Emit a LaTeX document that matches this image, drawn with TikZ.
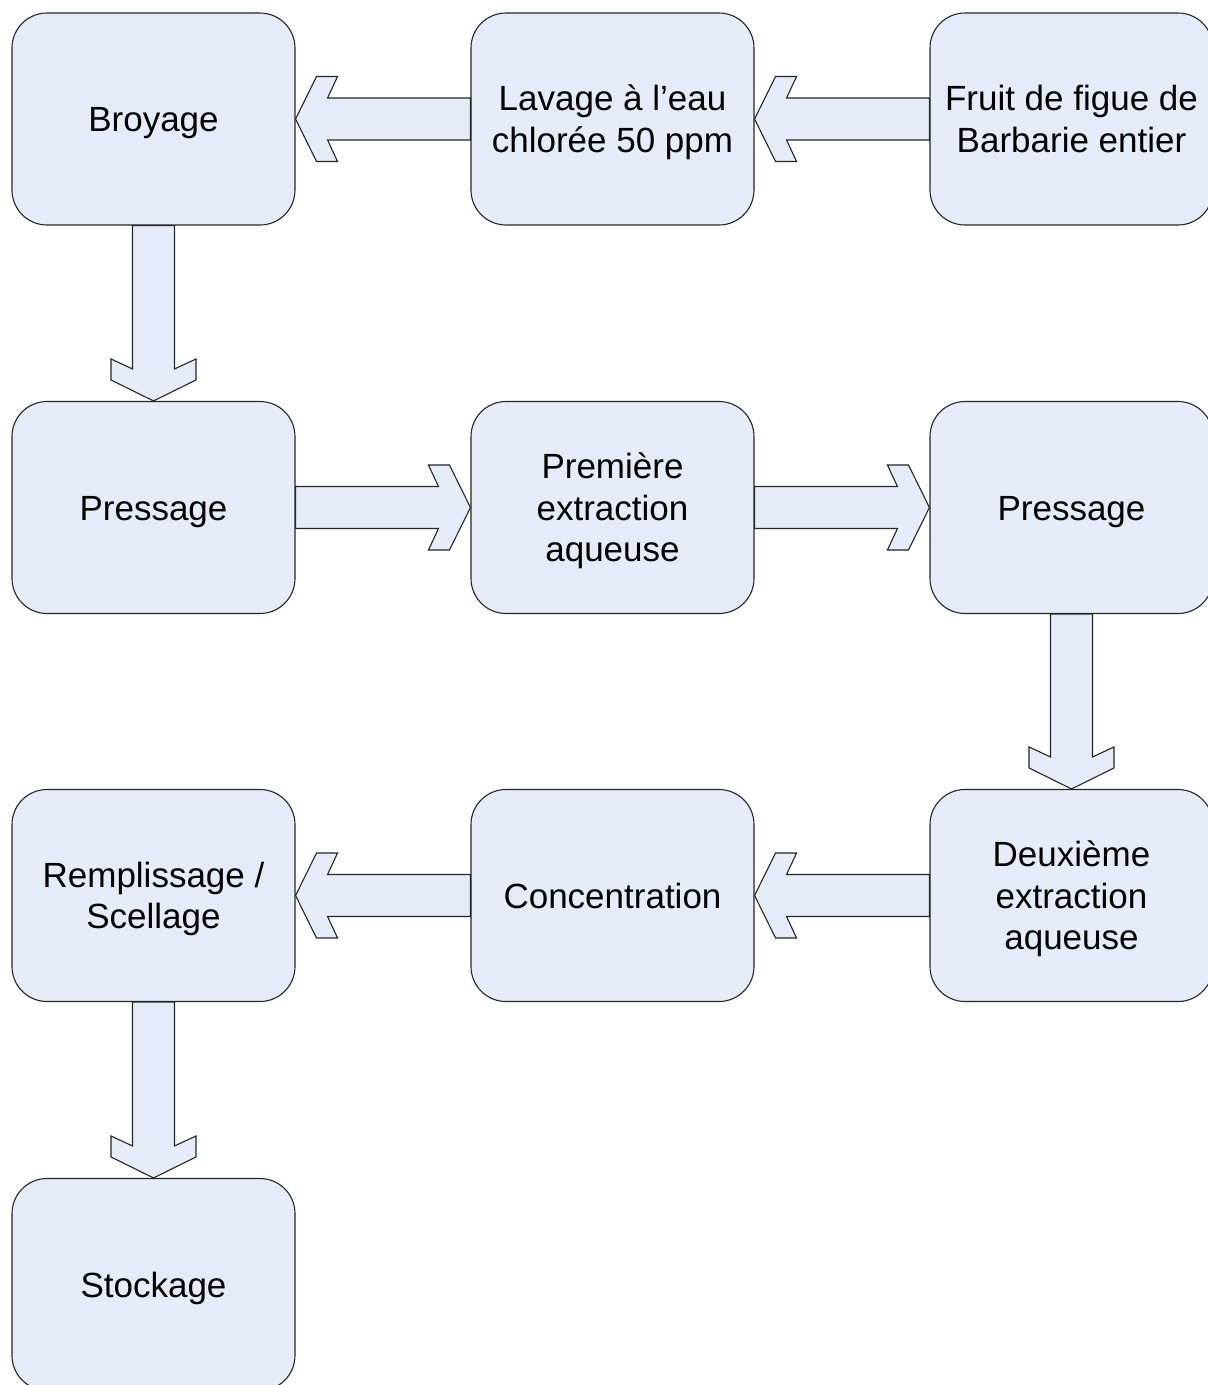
\documentclass[tikz,border=0pt]{standalone}
\usepackage{fontspec}
\setmainfont{Liberation Sans}
\usetikzlibrary{calc}
\definecolor{boxfill}{HTML}{E6ECF7}
\definecolor{boxline}{HTML}{262626}
\tikzset{
  stepbox/.style={draw=boxline, line width=1.1pt, fill=boxfill, rounded corners=35pt,
    minimum width=283pt, minimum height=212pt, inner sep=0pt, align=center,
    text height=25pt, text depth=0pt,
    font=\fontsize{35}{41.5}\selectfont},
  twolines/.style={text height=66.5pt},
  threelines/.style={text height=108pt},
  flowarrow/.style={draw=boxline, line width=1.1pt, fill=boxfill, line join=miter}
}
\newcommand\blockarrow[2]{%
  \coordinate (ba-s) at (#1);
  \coordinate (ba-t) at (#2);
  \coordinate (ba-j) at ($(ba-t)!32pt!(ba-s)$);
  \coordinate (ba-b) at ($(ba-t)!42pt!(ba-s)$);
  \coordinate (ba-f) at ($(ba-t)!21pt!(ba-s)$);
  \draw[flowarrow] ($(ba-s)!21pt!90:(ba-t)$) -- ($(ba-j)!21pt!90:(ba-t)$)
    -- ($(ba-b)!42.5pt!90:(ba-t)$) -- ($(ba-f)!42.5pt!90:(ba-t)$) -- (ba-t)
    -- ($(ba-f)!42.5pt!-90:(ba-t)$) -- ($(ba-b)!42.5pt!-90:(ba-t)$)
    -- ($(ba-j)!21pt!-90:(ba-t)$) -- ($(ba-s)!21pt!-90:(ba-t)$) -- cycle;
}
\begin{document}
\begin{tikzpicture}[x=1pt,y=-1pt]
\useasboundingbox (0,0) rectangle (1208,1385);
\clip (0,0) rectangle (1208,1385);
\fill[white] (0,0) rectangle (1208,1385);
% row 1
\node[stepbox] (broy) at (153.5,119) {Broyage};
\node[stepbox, twolines] (lav) at (612.5,119) {Lavage à l’eau\\chlorée 50 ppm};
\node[stepbox, twolines] (fruit) at (1071.5,119) {Fruit de figue de\\Barbarie entier};
% row 2
\node[stepbox] (press1) at (153.5,507.5) {Pressage};
\node[stepbox, threelines] (ext1) at (612.5,507.5) {Première\\extraction\\aqueuse};
\node[stepbox] (press2) at (1071.5,507.5) {Pressage};
% row 3
\node[stepbox, twolines] (fill) at (153.5,895.5) {Remplissage /\\Scellage};
\node[stepbox] (conc) at (612.5,895.5) {Concentration};
\node[stepbox, threelines] (ext2) at (1071.5,895.5) {Deuxième\\extraction\\aqueuse};
% row 4
\node[stepbox] (stock) at (153.5,1284.5) {Stockage};
% arrows
\blockarrow{fruit.west}{lav.east}
\blockarrow{lav.west}{broy.east}
\blockarrow{broy.south}{press1.north}
\blockarrow{press1.east}{ext1.west}
\blockarrow{ext1.east}{press2.west}
\blockarrow{press2.south}{ext2.north}
\blockarrow{ext2.west}{conc.east}
\blockarrow{conc.west}{fill.east}
\blockarrow{fill.south}{stock.north}
\end{tikzpicture}
\end{document}
